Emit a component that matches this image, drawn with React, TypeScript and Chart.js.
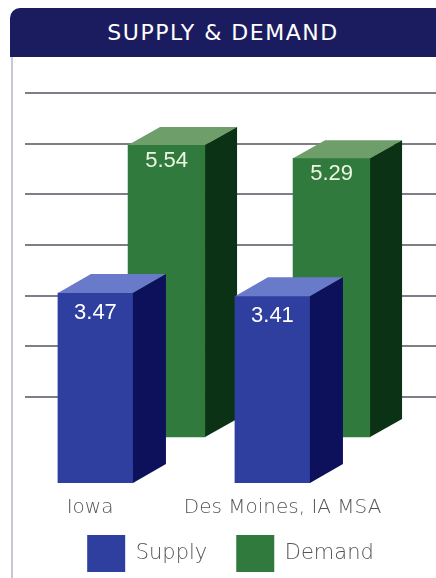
import React, { useEffect, useRef } from "react";
import { Chart, registerables } from "chart.js";

Chart.register(...registerables);

// ---- data ----
const TITLE = "SUPPLY & DEMAND";
const CATEGORIES = ["Iowa", "Des Moines, IA MSA"];
const SERIES_NAMES = ["Supply", "Demand"];
const SUPPLY = [3.47, 3.41];
const DEMAND = [5.54, 5.29];
const GRID_TICKS = [1, 2, 3, 4, 5, 6, 7];
const CATEGORY_INDEX = [0, 1];

// ---- styles ----
const STYLE: Record<string, any> = {
  supply: { front: "#2f3f9f", top: "#6a7aca", side: "#0d105a", label: "#ffffff", dx: 33, dy: 19, labelDy: 20, thickness: 75 },
  demand: { front: "#2f7a3c", top: "#6e9e6a", side: "#0b3214", label: "#eef6e4", dx: 32, dy: 18, labelDy: 16, thickness: 77 },
};
const FONT = "'DejaVu Sans', Lato, sans-serif";

const bar3d = {
  id: "bar3d",
  afterDatasetDraw(chart: any, args: any) {
    const ds = chart.data.datasets[args.index];
    const st = STYLE[ds.key];
    if (!st) return;
    const ctx = chart.ctx;
    ctx.save();
    args.meta.data.forEach((bar: any, i: number) => {
      const { x, y, base, width } = bar.getProps(["x", "y", "base", "width"], true);
      const L = x - width / 2;
      const R = x + width / 2;
      ctx.fillStyle = st.top;
      ctx.beginPath();
      ctx.moveTo(L, y);
      ctx.lineTo(L + st.dx, y - st.dy);
      ctx.lineTo(R + st.dx, y - st.dy);
      ctx.lineTo(R, y);
      ctx.closePath();
      ctx.fill();
      ctx.fillStyle = st.side;
      ctx.beginPath();
      ctx.moveTo(R, y);
      ctx.lineTo(R + st.dx, y - st.dy);
      ctx.lineTo(R + st.dx, base - st.dy);
      ctx.lineTo(R, base);
      ctx.closePath();
      ctx.fill();
      ctx.fillStyle = st.label;
      ctx.font = "22px 'Liberation Sans', Arial, sans-serif";
      ctx.textAlign = "center";
      ctx.textBaseline = "middle";
      ctx.fillText(ds.data[i].y.toFixed(2), x, y + st.labelDy);
    });
    ctx.restore();
  },
};

export default function App() {
  const ref = useRef<HTMLCanvasElement | null>(null);

  useEffect(() => {
    if (!ref.current) return;
    const chart = new Chart(ref.current, {
      type: "bar",
      data: {
        datasets: [
          {
            key: "supply",
            label: SERIES_NAMES[0],
            data: CATEGORY_INDEX.map((c, i) => ({ x: c, y: SUPPLY[i] })),
            backgroundColor: STYLE.supply.front,
            borderWidth: 0,
            barThickness: STYLE.supply.thickness,
            grouped: false,
            xAxisID: "xs",
            yAxisID: "ys",
          } as any,
          {
            key: "demand",
            label: SERIES_NAMES[1],
            data: CATEGORY_INDEX.map((c, i) => ({ x: c, y: DEMAND[i] })),
            backgroundColor: STYLE.demand.front,
            borderWidth: 0,
            barThickness: STYLE.demand.thickness,
            grouped: false,
            xAxisID: "xd",
            yAxisID: "yd",
          } as any,
        ],
      },
      options: {
        animation: false,
        responsive: false,
        devicePixelRatio: 1,
        layout: { padding: { left: 25, right: 0, top: 60, bottom: 0 } },
        plugins: {
          legend: {
            position: "bottom",
            maxHeight: 72,
            labels: {
              boxWidth: 38,
              boxHeight: 37,
              padding: 29,
              color: "#555555",
              font: { family: FONT, size: 21, weight: "300" },
            },
          },
          tooltip: { enabled: false },
        },
        scales: {
          x: {
            type: "linear",
            position: "bottom",
            offset: false,
            min: -0.338,
            max: 1.797,
            grid: { display: false, offset: false },
            border: { display: false },
            afterBuildTicks: (axis: any) => {
              axis.ticks = CATEGORY_INDEX.map((v) => ({ value: v }));
            },
            afterFit: (axis: any) => {
              axis.height = 23;
            },
            ticks: {
              mirror: true,
              padding: -37,
              autoSkip: false,
              maxRotation: 0,
              color: "#555555",
              font: { family: FONT, size: 20, weight: "300" },
              callback: (v: any) => CATEGORIES[v] ?? "",
            },
          },
          xs: { type: "linear", display: false, offset: false, min: -0.398, max: 1.924 },
          xd: { type: "linear", display: false, offset: false, min: -0.858, max: 1.633 },
          ys: { type: "linear", display: false, min: 0, max: 7.725 },
          yd: { type: "linear", display: false, min: -0.873, max: 7.154 },
          yg: {
            type: "linear",
            position: "right",
            min: -0.697,
            max: 7.651,
            afterBuildTicks: (axis: any) => {
              axis.ticks = GRID_TICKS.map((v) => ({ value: v }));
            },
            ticks: { display: false },
            border: { display: false },
            grid: { color: "#7e7e88", lineWidth: 2, drawTicks: false },
          },
        },
      } as any,
      plugins: [bar3d],
    });
    return () => chart.destroy();
  }, []);

  return (
    <div style={{ position: "absolute", left: 0, top: 0, width: 436, height: 578, background: "#ffffff", overflow: "hidden" }}>
      <div
        style={{
          position: "absolute",
          left: 10,
          top: 8,
          width: 426,
          height: 49,
          background: "#1b1c60",
          borderTopLeftRadius: 10,
          color: "#ffffff",
          fontFamily: FONT,
          fontWeight: 400,
          fontSize: 22,
          lineHeight: "49px",
          textAlign: "center",
          letterSpacing: 1.5,
        }}
      >
        {TITLE}
      </div>
      <div style={{ position: "absolute", left: 11, top: 57, width: 2, height: 521, background: "#c4c8d8" }} />
      <canvas ref={ref} width={436} height={578} style={{ position: "absolute", left: 0, top: 0 }} />
    </div>
  );
}
